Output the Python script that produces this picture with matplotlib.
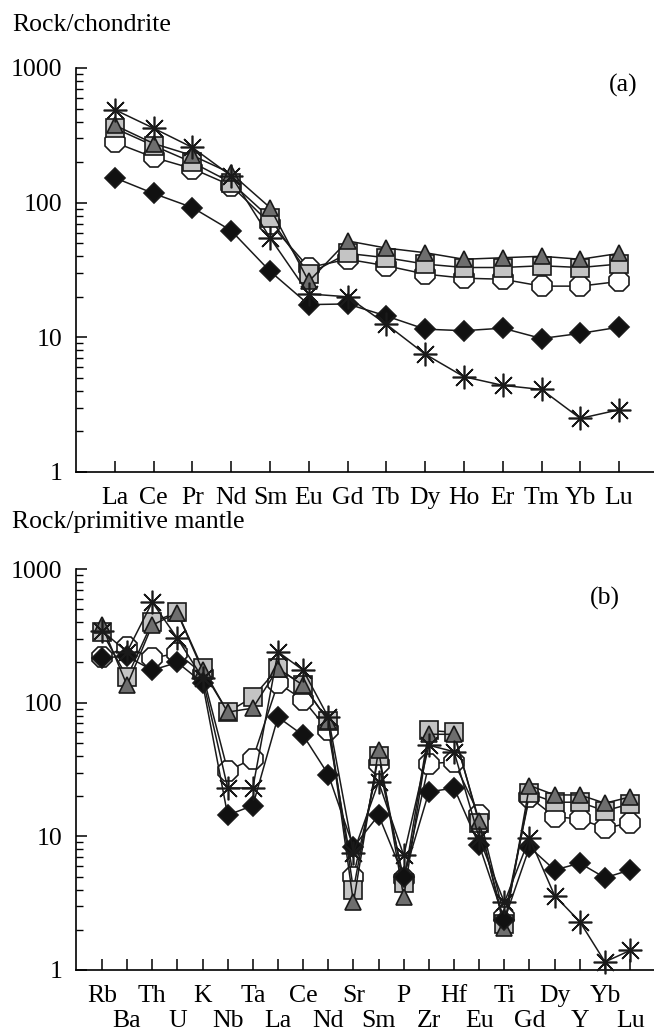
import numpy as np
import matplotlib
matplotlib.use("Agg")
import matplotlib.pyplot as plt
from matplotlib.ticker import LogLocator, NullFormatter

# --- style ---
plt.rcParams.update({
    "font.family": ["Liberation Serif", "DejaVu Serif"],
    "font.size": 18.5,
    "axes.linewidth": 1.2,
    "xtick.direction": "in",
    "ytick.direction": "in",
})

# ---------------- panel (a): REE / chondrite ----------------
ree = ["La", "Ce", "Pr", "Nd", "Sm", "Eu", "Gd", "Tb", "Dy", "Ho", "Er", "Tm", "Yb", "Lu"]
a_star = [490, 357, 257, 158, 55, 21, 20, 12.5, 7.5, 5.1, 4.4, 4.1, 2.5, 2.9]
a_tri = [376, 275, 224, 165, 92, 26, 52, 46, 42.5, 38, 39, 40, 38, 42]
a_sq = [357, 265, 199, 141, 77, 29.5, 42, 39, 35, 33, 33, 34, 33, 35]
a_oct = [280, 217, 179, 134, 70, 33, 38, 34, 29.5, 27.5, 27, 24, 24, 26]
a_dia = [153, 117, 92, 62, 31, 17.5, 17.7, 14.4, 11.5, 11.2, 11.7, 9.8, 10.7, 11.9]

# ---------------- panel (b): spider / primitive mantle ----------------
spider = ["Rb", "Ba", "Th", "U", "K", "Nb", "Ta", "La", "Ce", "Nd", "Sr",
          "Sm", "P", "Zr", "Hf", "Eu", "Ti", "Gd", "Dy", "Y", "Yb", "Lu"]
b_star = [345, 240, 565, 303, 153, 23, 23, 240, 175, 78, 7.5,
          25.5, 7.2, 48, 43, 9.7, 3.2, 9.7, 3.6, 2.3, 1.15, 1.4]
b_tri = [380, 135, 380, 470, 175, 85, 91, 180, 135, 73, 3.2,
         44, 3.5, 58, 58, 13, 2.05, 24, 20.4, 20.4, 17.7, 19.7]
b_sq = [338, 155, 400, 475, 181, 85, 110, 181, 135, 73, 4.0,
        40, 4.5, 62, 60, 12.5, 2.2, 21, 18, 18, 15.5, 17.5]
b_oct = [219, 261, 215, 235, 165, 31, 38, 140, 105, 62, 5.0,
         35, 4.8, 35, 36, 14.4, 2.5, 19.7, 14, 13.5, 11.5, 12.6]
b_dia = [217, 222, 175, 200, 141, 14.4, 17, 78, 57, 29, 8.3,
         14.4, 5.0, 21.5, 23, 8.6, 2.37, 8.3, 5.6, 6.3, 4.9, 5.6]

STAR = (8, 2, 0)
styles = [
    # series, marker, face, size, z
    ("oct", "8", "white", 15, 2),
    ("sq", "s", "#c4c4c4", 13.5, 3),
    ("tri", "^", "#6e6e6e", 12, 4),
    ("dia", "D", "#111111", 10, 5),
    ("star", STAR, "#111111", 17, 6),
]

fig = plt.figure(figsize=(6.54, 10.34), dpi=100)
ax_a = fig.add_axes([76 / 654, 1 - 472 / 1034, 1 - 76 / 654, (472 - 68) / 1034])
ax_b = fig.add_axes([76 / 654, 1 - 970 / 1034, 1 - 76 / 654, (970 - 569) / 1034])


def draw(ax, names, series):
    x = np.arange(len(names))
    for key, marker, face, ms, z in styles:
        ax.plot(x, series[key], color="#1a1a1a", lw=1.1, marker=marker,
                markersize=ms, markerfacecolor=face, markeredgecolor="#1a1a1a",
                markeredgewidth=1.2, zorder=z, clip_on=False)
    ax.set_yscale("log")
    ax.set_ylim(1, 1000)
    ax.yaxis.set_minor_locator(LogLocator(base=10, subs=np.arange(2, 10), numticks=10))
    ax.yaxis.set_minor_formatter(NullFormatter())
    ax.set_yticks([1, 10, 100, 1000], ["1", "10", "100", "1000"])
    ax.spines["top"].set_visible(False)
    ax.spines["right"].set_visible(False)
    ax.tick_params(which="major", length=8, width=1.1)
    ax.tick_params(which="minor", length=5, width=1.0)
    ax.tick_params(axis="y", which="major", pad=10)


draw(ax_a, ree, {"star": a_star, "tri": a_tri, "sq": a_sq, "oct": a_oct, "dia": a_dia})
ax_a.set_xlim(-1.0, 13.9)
ax_a.set_xticks(np.arange(len(ree)), ree)
ax_a.tick_params(axis="x", pad=11)

draw(ax_b, spider, {"star": b_star, "tri": b_tri, "sq": b_sq, "oct": b_oct, "dia": b_dia})
ax_b.set_xlim(-1.03, 21.95)
xb = np.arange(len(spider))
ax_b.set_xticks(xb[::2], spider[::2])
ax_b.set_xticks(xb[1::2], spider[1::2], minor=True)
ax_b.tick_params(axis="x", which="major", pad=11)
ax_b.tick_params(axis="x", which="minor", length=8, width=1.1, pad=29, labelsize=18.5)

fig.text(12 / 654, 1 - 25 / 1034, "Rock/chondrite", ha="left", va="center")
fig.text(12 / 654, 1 - 522 / 1034, "Rock/primitive mantle", ha="left", va="center")
fig.text(623 / 654, 1 - 85 / 1034, "(a)", ha="center", va="center")
fig.text(605 / 654, 1 - 598 / 1034, "(b)", ha="center", va="center")

fig.savefig("out.png", dpi=100)
